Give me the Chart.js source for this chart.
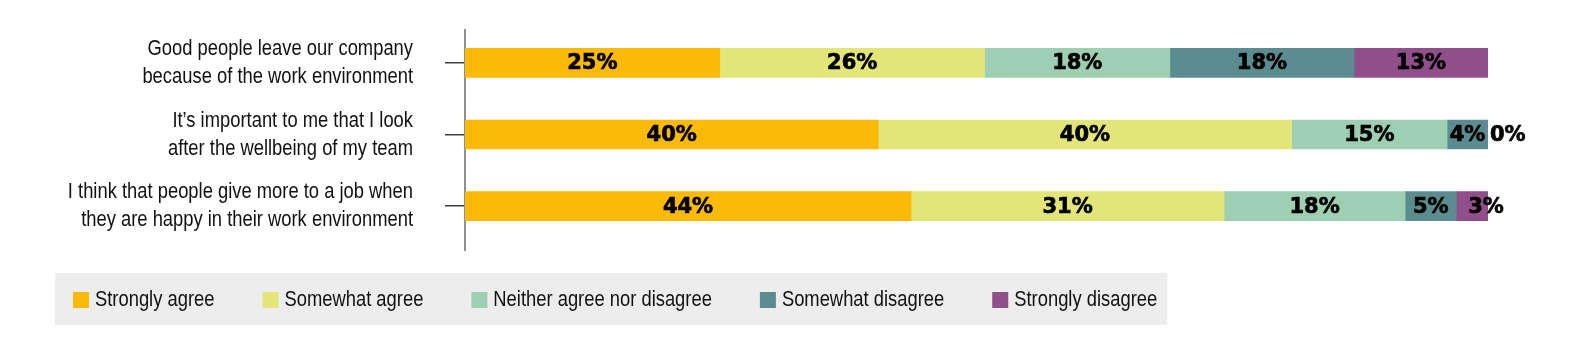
<!DOCTYPE html>
<html><head><meta charset="utf-8">
<script src="https://cdn.jsdelivr.net/npm/chart.js@4.4.1/dist/chart.umd.min.js"></script>
<style>html,body{margin:0;padding:0;background:#fff;overflow:hidden;}</style>
</head><body>
<canvas id="c" width="1584" height="356" style="display:block;width:1584px;height:356px"></canvas>
<script>
const categories = [
  ["Good people leave our company", "because of the work environment"],
  ["It\u2019s important to me that I look", "after the wellbeing of my team"],
  ["I think that people give more to a job when", "they are happy in their work environment"]
];
const seriesNames = ["Strongly agree", "Somewhat agree", "Neither agree nor disagree", "Somewhat disagree", "Strongly disagree"];
const stronglyAgree    = [24.9, 40.4, 43.6];
const somewhatAgree    = [25.9, 40.4, 30.6];
const neitherAgree     = [18.1, 15.2, 17.7];
const somewhatDisagree = [18.0, 4.0, 5.0];
const stronglyDisagree = [13.1, 0, 3.1];
const seriesValues = [stronglyAgree, somewhatAgree, neitherAgree, somewhatDisagree, stronglyDisagree];
const seriesColors = ["#FBB90A", "#E2E577", "#9ECFB2", "#5B8D90", "#904F8A"];

const TEXT_FONT = '"Liberation Sans", Arial, sans-serif';
const TEXT_SIZE = 22;
const SX = 0.835; // horizontal condensing to imitate a narrow face
const BOLDF = '"DejaVu Sans", sans-serif';

function condensedText(ctx, text, x, y, align, color) {
  ctx.save();
  ctx.font = TEXT_SIZE + 'px ' + TEXT_FONT;
  ctx.fillStyle = color;
  ctx.textBaseline = 'middle';
  ctx.textAlign = align;
  ctx.translate(x, y);
  ctx.scale(SX, 1);
  ctx.fillText(text, 0, 0);
  ctx.restore();
}
function condensedWidth(ctx, text) {
  ctx.save();
  ctx.font = TEXT_SIZE + 'px ' + TEXT_FONT;
  const w = ctx.measureText(text).width * SX;
  ctx.restore();
  return w;
}

const axisLinePlugin = {
  id: 'axisLine',
  beforeDatasetsDraw(chart) {
    const a = chart.chartArea, ctx = chart.ctx;
    ctx.save();
    ctx.strokeStyle = '#8f8f8f';
    ctx.lineWidth = 2;
    ctx.beginPath();
    ctx.moveTo(a.left, a.top + 2);
    ctx.lineTo(a.left, a.bottom + 9);
    ctx.stroke();
    ctx.restore();
  }
};

const catLabelPlugin = {
  id: 'catLabels',
  afterDraw(chart) {
    const ctx = chart.ctx, ys = chart.scales.y;
    const x = chart.chartArea.left - 52;
    const lh = 28;
    chart.data.labels.forEach((lines, i) => {
      const yc = ys.getPixelForTick(i);
      const n = lines.length;
      lines.forEach((ln, k) => {
        condensedText(ctx, ln, x, yc + (k - (n - 1) / 2) * lh, 'right', '#111');
      });
    });
  }
};

const segLabelPlugin = {
  id: 'segLabels',
  afterDatasetsDraw(chart) {
    const ctx = chart.ctx;
    ctx.save();
    ctx.font = 'bold 21px ' + BOLDF;
    ctx.fillStyle = '#000';
    ctx.strokeStyle = '#000';
    ctx.lineWidth = 0.7;
    ctx.textBaseline = 'middle';
    chart.data.datasets.forEach((ds, i) => {
      const meta = chart.getDatasetMeta(i);
      meta.data.forEach((bar, j) => {
        const v = ds.data[j];
        const txt = Math.round(v) + '%';
        const left = Math.min(bar.x, bar.base), right = Math.max(bar.x, bar.base);
        const w = right - left;
        const tw = ctx.measureText(txt).width;
        const cx = (left + right) / 2;
        let tx;
        if (w < 1) { ctx.textAlign = 'left'; tx = right + 2; }
        else if (tw > w) { ctx.textAlign = 'left'; tx = cx - 4; }
        else { ctx.textAlign = 'center'; tx = cx; }
        ctx.fillText(txt, tx, bar.y + 1);
        ctx.strokeText(txt, tx, bar.y + 1);
      });
    });
    ctx.restore();
  }
};

const boxLegendPlugin = {
  id: 'boxLegend',
  afterDraw(chart) {
    const ctx = chart.ctx;
    const x0 = 55, top = 273, h = 52;
    const padL = 18, padR = 10, gap = 48, box = 16, textGap = 6;
    const items = chart.data.datasets.map(ds => ({
      label: ds.label, color: ds.backgroundColor, w: condensedWidth(ctx, ds.label)
    }));
    let total = padL;
    items.forEach((it, k) => { total += box + textGap + it.w + (k < items.length - 1 ? gap : 0); });
    total += padR;
    ctx.save();
    ctx.fillStyle = '#EDEDED';
    ctx.fillRect(x0, top, total, h);
    let x = x0 + padL;
    const cy = top + h / 2 + 1;
    items.forEach(it => {
      ctx.fillStyle = it.color;
      ctx.fillRect(x, cy - box / 2, box, box);
      condensedText(ctx, it.label, x + box + textGap, cy, 'left', '#111');
      x += box + textGap + it.w + gap;
    });
    ctx.restore();
  }
};

new Chart(document.getElementById('c'), {
  type: 'bar',
  data: {
    labels: categories,
    datasets: seriesNames.map((n, i) => ({
      label: n,
      data: seriesValues[i],
      backgroundColor: seriesColors[i],
      borderWidth: 0,
      barThickness: 29
    }))
  },
  options: {
    indexAxis: 'y',
    responsive: false,
    animation: false,
    devicePixelRatio: 1,
    layout: { padding: { left: 0, right: 96, top: 27, bottom: 114 } },
    plugins: { legend: { display: false }, tooltip: { enabled: false } },
    scales: {
      x: { stacked: true, min: 0, max: 100, display: false },
      y: {
        stacked: true,
        grid: { display: true, offset: false, drawOnChartArea: false, drawTicks: true, tickLength: 20, color: '#3c3c3c', lineWidth: 1.5 },
        border: { display: false },
        ticks: { display: false },
        afterFit(s) { s.width = 465; s.paddingTop = 0; s.paddingBottom = 0; }
      }
    }
  },
  plugins: [axisLinePlugin, segLabelPlugin, catLabelPlugin, boxLegendPlugin]
});
</script>
</body></html>
